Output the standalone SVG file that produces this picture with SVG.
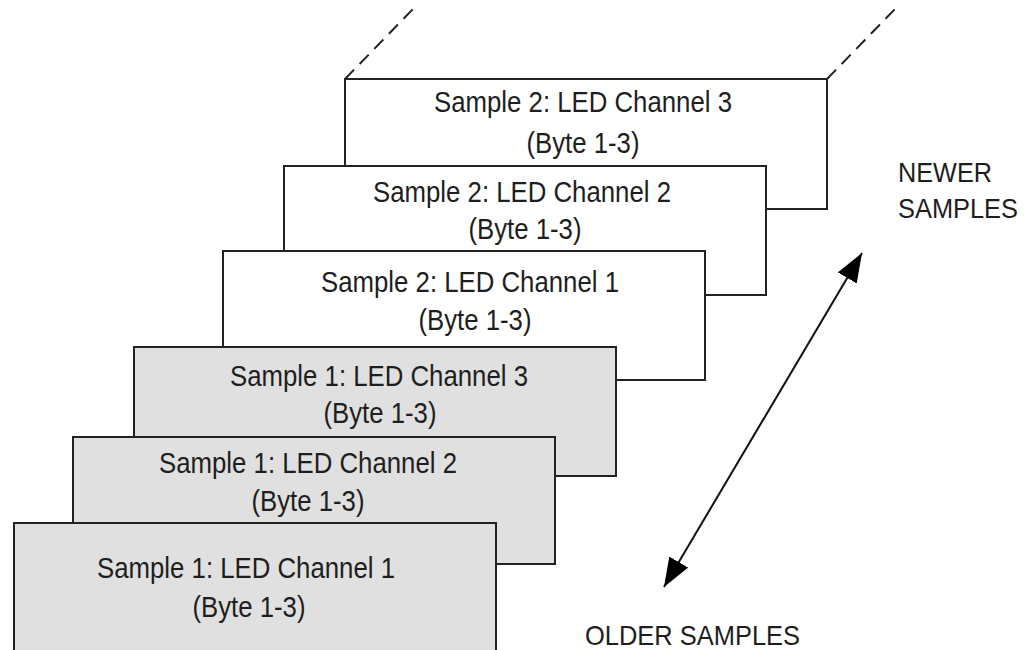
<svg xmlns="http://www.w3.org/2000/svg" width="1030" height="650" viewBox="0 0 1030 650">
  <style>
    .box { stroke: #222; stroke-width: 2; }
    .newer { fill: #ffffff; }
    .older { fill: #e0e0e0; }
    .lbl { font-family: "Liberation Sans", Arial, sans-serif; font-size: 29px; fill: #1e1e1e; }
    .mid { text-anchor: middle; }
    .side { font-family: "Liberation Sans", Arial, sans-serif; font-size: 28px; fill: #1e1e1e; }
    .dash { stroke: #222; stroke-width: 2; stroke-dasharray: 13 8; fill: none; }
    .arrow { stroke: #111; stroke-width: 2; fill: none; }
  </style>
  <defs>
    <marker id="head" markerUnits="userSpaceOnUse" markerWidth="32" markerHeight="24" refX="29" refY="11" orient="auto-start-reverse">
      <path d="M0,0 L29,11 L0,22 z" fill="#000"/>
    </marker>
  </defs>
  <rect width="1030" height="650" fill="#ffffff"/>

  <!-- stack continues upward beyond the newest entry -->
  <g id="continuation">
    <line class="dash" x1="345" y1="79" x2="413" y2="9"/>
    <line class="dash" x1="827" y1="79" x2="895" y2="9"/>
  </g>

  <g id="s2-ch3">
    <rect class="box newer" x="345" y="79" width="482" height="130"/>
    <text class="lbl mid" x="583" y="112" textLength="298" lengthAdjust="spacingAndGlyphs">Sample 2: LED Channel 3</text>
    <text class="lbl mid" x="583" y="153" textLength="113" lengthAdjust="spacingAndGlyphs">(Byte 1-3)</text>
  </g>
  <g id="s2-ch2">
    <rect class="box newer" x="284" y="166" width="482" height="129"/>
    <text class="lbl mid" x="522" y="202" textLength="298" lengthAdjust="spacingAndGlyphs">Sample 2: LED Channel 2</text>
    <text class="lbl mid" x="525" y="239" textLength="113" lengthAdjust="spacingAndGlyphs">(Byte 1-3)</text>
  </g>
  <g id="s2-ch1">
    <rect class="box newer" x="223" y="251" width="482" height="129"/>
    <text class="lbl mid" x="470" y="292" textLength="298" lengthAdjust="spacingAndGlyphs">Sample 2: LED Channel 1</text>
    <text class="lbl mid" x="475" y="330" textLength="113" lengthAdjust="spacingAndGlyphs">(Byte 1-3)</text>
  </g>
  <g id="s1-ch3">
    <rect class="box older" x="134" y="347" width="482" height="129"/>
    <text class="lbl mid" x="379" y="386" textLength="298" lengthAdjust="spacingAndGlyphs">Sample 1: LED Channel 3</text>
    <text class="lbl mid" x="380" y="423" textLength="113" lengthAdjust="spacingAndGlyphs">(Byte 1-3)</text>
  </g>
  <g id="s1-ch2">
    <rect class="box older" x="73" y="437" width="482" height="127"/>
    <text class="lbl mid" x="308" y="473" textLength="298" lengthAdjust="spacingAndGlyphs">Sample 1: LED Channel 2</text>
    <text class="lbl mid" x="308" y="511" textLength="113" lengthAdjust="spacingAndGlyphs">(Byte 1-3)</text>
  </g>
  <g id="s1-ch1">
    <rect class="box older" x="14" y="523" width="482" height="140"/>
    <text class="lbl mid" x="246" y="578" textLength="298" lengthAdjust="spacingAndGlyphs">Sample 1: LED Channel 1</text>
    <text class="lbl mid" x="249" y="617" textLength="113" lengthAdjust="spacingAndGlyphs">(Byte 1-3)</text>
  </g>

  <g id="connectors">
    <line class="arrow" x1="664" y1="587" x2="862" y2="253" marker-start="url(#head)" marker-end="url(#head)"/>
  </g>

  <g id="newer-label">
    <text class="side" x="898" y="182" textLength="94" lengthAdjust="spacingAndGlyphs">NEWER</text>
    <text class="side" x="898" y="218" textLength="120" lengthAdjust="spacingAndGlyphs">SAMPLES</text>
  </g>
  <g id="older-label">
    <text class="side" x="585" y="645" textLength="215" lengthAdjust="spacingAndGlyphs">OLDER SAMPLES</text>
  </g>
</svg>
